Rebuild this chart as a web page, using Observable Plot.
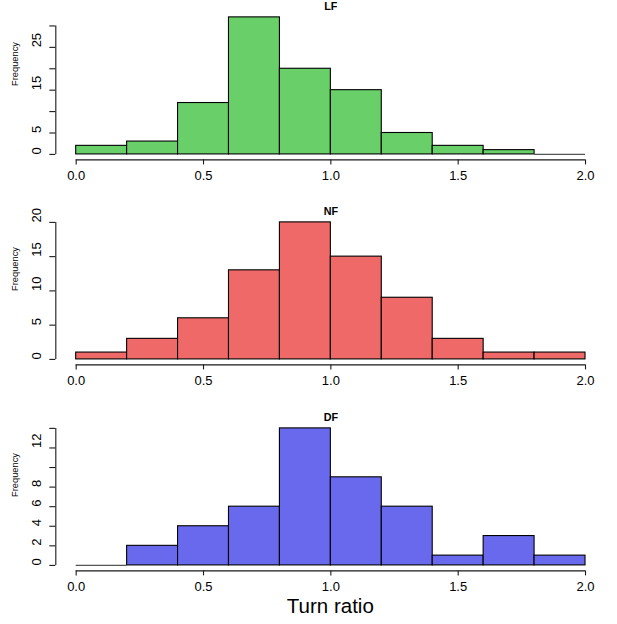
<!DOCTYPE html>
<html>
<head>
<meta charset="utf-8">
<script src="https://cdn.jsdelivr.net/npm/d3@7"></script>
<script src="https://cdn.jsdelivr.net/npm/@observablehq/plot@0.6"></script>
<style>
  html, body { margin: 0; padding: 0; background: #fff; }
  #chart { position: relative; width: 617px; height: 624px; font-family: "Liberation Sans", Arial, Helvetica, sans-serif; }
  #chart svg { position: absolute; left: 0; }
  #xlab { position: absolute; left: 55.3px; width: 550.1px; top: 595px; text-align: center; font-size: 20.5px; line-height: 21px; color: #000; }
</style>
</head>
<body>
<div id="chart"></div>
<script>
// ---- data ----
const breaks = [0, 0.2, 0.4, 0.6, 0.8, 1.0, 1.2, 1.4, 1.6, 1.8, 2.0];
const lfCounts = [2, 3, 12, 32, 20, 15, 5, 2, 1, 0];
const nfCounts = [1, 3, 6, 13, 20, 15, 9, 3, 1, 1];
const dfCounts = [0, 2, 4, 6, 14, 9, 6, 1, 3, 1];
const panelTitles = ["LF", "NF", "DF"];
const panelColors = ["#69D069", "#EF6969", "#6969EE"];
const xTicks = [0, 0.5, 1.0, 1.5, 2.0];
const xTickLabels = ["0.0", "0.5", "1.0", "1.5", "2.0"];
const lfYTicks = [0, 5, 10, 15, 20, 25, 30];
const lfYLabels = [0, 5, 15, 25];
const nfYTicks = [0, 5, 10, 15, 20];
const nfYLabels = [0, 5, 10, 15, 20];
const dfYTicks = [0, 2, 4, 6, 8, 10, 12, 14];
const dfYLabels = [0, 2, 4, 6, 8, 12];
const yAxisTitle = "Frequency";
const xAxisTitle = "Turn ratio";

const panels = [
  {title: panelTitles[0], counts: lfCounts, color: panelColors[0], yTicks: lfYTicks, yLabels: lfYLabels},
  {title: panelTitles[1], counts: nfCounts, color: panelColors[1], yTicks: nfYTicks, yLabels: nfYLabels},
  {title: panelTitles[2], counts: dfCounts, color: panelColors[2], yTicks: dfYTicks, yLabels: dfYLabels}
];

const chart = document.getElementById("chart");
const panelH = 205.4;
const axisColor = "#1a1a1a";

panels.forEach((p, i) => {
  const bins = p.counts.map((c, j) => ({x0: breaks[j], x1: breaks[j + 1], count: c}));
  const ymax = d3.max(p.counts);
  const yDom = [-0.04 * ymax, 1.04 * ymax];
  const xr = breaks[breaks.length - 1] - breaks[0];
  const xDom = [breaks[0] - 0.04 * xr, breaks[breaks.length - 1] + 0.04 * xr];
  const svg = Plot.plot({
    width: 617,
    height: panelH,
    marginTop: 11.4,
    marginBottom: 46,
    marginLeft: 55.3,
    marginRight: 11.6,
    style: {fontFamily: "'Liberation Sans', Arial, Helvetica, sans-serif", fontSize: "13px", background: "transparent", color: "#000"},
    x: {domain: xDom},
    y: {domain: yDom},
    marks: [
      Plot.rect(bins.filter(d => d.count > 0), {x1: "x0", x2: "x1", y1: d => 0, y2: "count", fill: p.color, stroke: "#000", strokeWidth: 1.1}),
      Plot.ruleY(bins.filter(d => d.count === 0), {y: d => 0, x1: "x0", x2: "x1", stroke: "#555", strokeWidth: 1.1}),
      // x axis
      Plot.ruleY([yDom[0]], {x1: xTicks[0], x2: xTicks[xTicks.length - 1], stroke: axisColor, strokeWidth: 1.1}),
      Plot.axisX({ticks: xTicks, tickSize: 5, fill: "none", stroke: axisColor, strokeWidth: 1.1}),
      Plot.text(xTicks, {x: d => d, text: (d, k) => xTickLabels[k], frameAnchor: "bottom", dy: 16.4, lineAnchor: "middle", fontSize: 13, fill: "#000"}),
      // y axis
      Plot.ruleX([xDom[0]], {y1: p.yTicks[0], y2: p.yTicks[p.yTicks.length - 1], stroke: axisColor, strokeWidth: 1.1}),
      Plot.axisY({ticks: p.yTicks, tickSize: 6, fill: "none", stroke: axisColor, strokeWidth: 1.1}),
      Plot.text(p.yLabels, {y: d => d, text: d => String(d), frameAnchor: "left", dx: -18.6, rotate: -90, fontSize: 13, fill: "#000"}),
      Plot.text([yAxisTitle], {text: d => d, frameAnchor: "left", dx: -40.3, rotate: -90, fontSize: 9.3, fill: "#000"}),
      // title
      Plot.text([p.title], {text: d => d, frameAnchor: "top", dy: -5, lineAnchor: "middle", fontWeight: "bold", fontSize: 10.8, fill: "#000"})
    ]
  });
  svg.style.top = (i * panelH) + "px";
  chart.appendChild(svg);
});

const xl = document.createElement("div");
xl.id = "xlab";
xl.textContent = xAxisTitle;
chart.appendChild(xl);
</script>
</body>
</html>
